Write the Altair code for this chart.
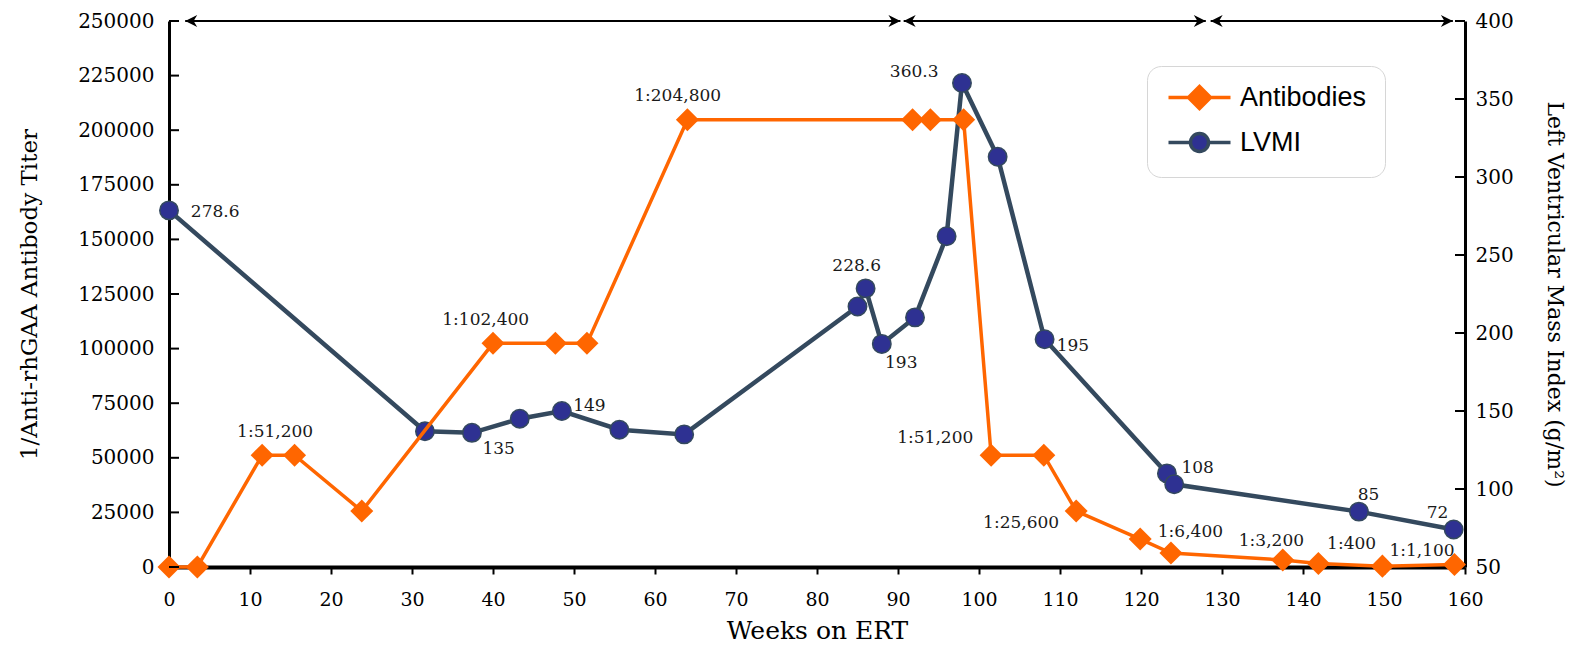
import altair as alt
import pandas as pd

# Reciprocal anti-rhGAA antibody titer per visit (left axis)
ab_weeks = [0, 3.5, 11.5, 15.5, 23.8, 40, 47.7, 51.6, 64, 91.8, 94, 98.1,
            101.5, 108, 112, 119.9, 123.7, 137.5, 141.9, 149.8, 158.7]
ab_titers = [0, 0, 51200, 51200, 25600, 102400, 102400, 102400, 204800, 204800,
             204800, 204800, 51200, 51200, 25600, 12800, 6400, 3200, 1600, 400, 1100]

# Left ventricular mass index, g/m2 (right axis)
lv_weeks = [0, 31.6, 37.4, 43.3, 48.5, 55.6, 63.6, 85.0, 86.0, 88.0, 92.1,
            96.0, 97.9, 102.3, 108.1, 123.2, 124.1, 146.9, 158.6]
lv_values = [278.6, 137, 136, 145, 150, 138, 135, 217, 228.6, 193, 210,
             262, 360.3, 313, 196, 110, 103, 85.5, 74]

# annotations
ab_label_text = ["1:51,200", "1:102,400", "1:204,800", "1:51,200", "1:25,600",
                 "1:6,400", "1:3,200", "1:400", "1:1,100"]
ab_label_weeks = [13.1, 39.1, 62.8, 94.6, 105.2, 126.1, 136.1, 146.0, 154.7]
ab_label_values = [62000, 113000, 215500, 59000, 20000, 16000, 11900, 10400, 7300]

lv_label_text = ["278.6", "135", "149", "228.6", "193", "360.3", "195", "108", "85", "72"]
lv_label_weeks = [5.7, 40.7, 51.9, 84.9, 90.4, 92.0, 111.6, 127.0, 148.1, 156.6]
lv_label_values = [277.4, 125.6, 153.5, 243, 181, 367.6, 191.6, 113.5, 96.4, 84.9]

# treatment phases shown as arrows along the top
arrow_starts = [2.0, 90.7, 128.6]
arrow_ends = [90.3, 128.0, 158.5]

series = ["Antibodies", "LVMI"]
x_ticks = list(range(0, 161, 10))
left_ticks = list(range(0, 250001, 25000))
right_ticks = list(range(50, 401, 50))

W, H = 1296, 546
ORANGE = "#FF6600"
SLATE = "#34495E"
INDIGO = "#2E3192"
SERIF = "DejaVu Serif"

ab = pd.DataFrame({"week": ab_weeks, "titer": ab_titers})
lv = pd.DataFrame({"week": lv_weeks, "lvmi": lv_values})
ab_lab = pd.DataFrame({"week": ab_label_weeks, "titer": ab_label_values, "txt": ab_label_text})
lv_lab = pd.DataFrame({"week": lv_label_weeks, "lvmi": lv_label_values, "txt": lv_label_text})
arrows = pd.DataFrame({"start": arrow_starts, "end": arrow_ends})
lt = pd.DataFrame({"v": left_ticks})
rt = pd.DataFrame({"v": right_ticks})
leg = pd.DataFrame({"series": series})

x_axis = alt.Axis(title="Weeks on ERT", values=x_ticks, grid=False, labelFlush=False,
                  labelOverlap=False, domainColor="black", domainWidth=4,
                  tickColor="black", tickWidth=2, tickSize=7, labelPadding=16,
                  labelFont=SERIF, labelFontSize=19, labelColor="black",
                  titleFont=SERIF, titleFontSize=25, titleFontWeight="normal",
                  titleColor="black", titlePadding=9)
x_scale = alt.Scale(domain=[0, 160], nice=False)


def xq(field):
    return alt.X(field + ":Q", scale=x_scale, axis=x_axis)


left_axis = alt.Axis(title="1/Anti-rhGAA Antibody Titer", orient="left", values=left_ticks,
                     format="d", grid=False, ticks=False, labelFlush=False, labelOverlap=False,
                     domainColor="black", domainWidth=3, labelPadding=15,
                     labelFont=SERIF, labelFontSize=20, labelColor="black",
                     titleFont=SERIF, titleFontSize=23, titleFontWeight="normal",
                     titleColor="black", titlePadding=36)
left_scale = alt.Scale(domain=[0, 250000], nice=False)

right_axis = alt.Axis(title="Left Ventricular Mass Index (g/m²)", orient="right",
                      values=right_ticks, format="d", grid=False, ticks=False,
                      labelFlush=False, labelOverlap=False, domainColor="black",
                      domainWidth=3, labelPadding=10, labelFont=SERIF, labelFontSize=20,
                      labelColor="black", titleFont=SERIF, titleFontSize=22,
                      titleFontWeight="normal", titleColor="black", titlePadding=29)
right_scale = alt.Scale(domain=[50, 400], nice=False)


def yl(field):
    return alt.Y(field + ":Q", scale=left_scale, axis=left_axis)


def yr(field):
    return alt.Y(field + ":Q", scale=right_scale, axis=right_axis)


# --- LVMI (right axis)
lv_line = alt.Chart(lv).mark_line(color=SLATE, strokeWidth=4.5).encode(x=xq("week"), y=yr("lvmi"))
lv_pts = alt.Chart(lv).mark_point(shape="circle", filled=True, fill=INDIGO, stroke=SLATE,
                                  strokeWidth=1.5, size=340, opacity=1).encode(
    x=xq("week"), y=yr("lvmi"))
lv_txt = alt.Chart(lv_lab).mark_text(font=SERIF, fontSize=17, color="#1a1a1a").encode(
    x=xq("week"), y=yr("lvmi"), text="txt:N")
r_ticks = alt.Chart(rt).mark_rule(color="black", strokeWidth=2).encode(
    y=yr("v"), x=alt.value(W - 10), x2=alt.value(W))

right_layer = alt.layer(lv_line, lv_pts, lv_txt, r_ticks)

# --- antibodies (left axis), arrows and legend
arrow_line = alt.Chart(arrows).mark_rule(color="black", strokeWidth=2).encode(
    x=xq("start"), x2="end:Q", y=alt.value(0))
head_left = alt.Chart(arrows).mark_point(shape="M0,0 L2,-1 L1.4,0 L2,1 Z", filled=True,
                                         color="black", size=144, opacity=1).encode(
    x=xq("start"), y=alt.value(0))
head_right = alt.Chart(arrows).mark_point(shape="M0,0 L-2,-1 L-1.4,0 L-2,1 Z", filled=True,
                                          color="black", size=144, opacity=1).encode(
    x=xq("end"), y=alt.value(0))

ab_line = alt.Chart(ab).mark_line(color=ORANGE, strokeWidth=3.5).encode(x=xq("week"), y=yl("titer"))
ab_pts = alt.Chart(ab).mark_point(shape="diamond", filled=True, color=ORANGE, size=530,
                                  opacity=1).encode(x=xq("week"), y=yl("titer"))
ab_txt = alt.Chart(ab_lab).mark_text(font=SERIF, fontSize=17, color="#1a1a1a").encode(
    x=xq("week"), y=yl("titer"), text="txt:N")
l_ticks = alt.Chart(lt).mark_rule(color="black", strokeWidth=2).encode(
    y=yl("v"), x=alt.value(0), x2=alt.value(10))

# legend symbols: a line with the marker on it, drawn to the right of the symbol box
legend = alt.Legend(title=None, orient="none", legendX=978, legendY=45, fillColor="white",
                    strokeColor="#d6d6d6", cornerRadius=14, padding=18, symbolSize=400,
                    symbolStrokeWidth=3.5, symbolOpacity=1, labelFont="Liberation Sans",
                    labelFontSize=27, labelColor="black", labelOffset=48, rowPadding=10)
ab_sym = "M-1,0 L1,0 M3.2,0 L5.2,0 M2.1,-1.1 L3.2,0 L2.1,1.1 L1,0 Z"
lv_sym = "M-1,0 L1.2,0 M3,0 L5.2,0 M3,0 A0.9,0.9 0 1,1 1.2,0 A0.9,0.9 0 1,1 3,0 Z"
legend_layer = alt.Chart(leg).mark_point(filled=True, opacity=1).encode(
    fill=alt.Fill("series:N", scale=alt.Scale(domain=series, range=[ORANGE, INDIGO]), legend=legend),
    stroke=alt.Stroke("series:N", scale=alt.Scale(domain=series, range=[ORANGE, SLATE]), legend=legend),
    shape=alt.Shape("series:N", scale=alt.Scale(domain=series, range=[ab_sym, lv_sym]), legend=legend),
).transform_filter("false")

left_layer = alt.layer(arrow_line, head_left, head_right, ab_line, ab_pts, ab_txt, l_ticks, legend_layer)

chart = alt.layer(right_layer, left_layer).resolve_scale(y="independent").properties(
    width=W, height=H,
    padding={"left": 161, "top": 13, "right": 106, "bottom": 78},
    autosize=alt.AutoSizeParams(type="none"),
).configure_view(stroke=None)

chart.save("out.html", embed_options={"renderer": "svg", "actions": False})
